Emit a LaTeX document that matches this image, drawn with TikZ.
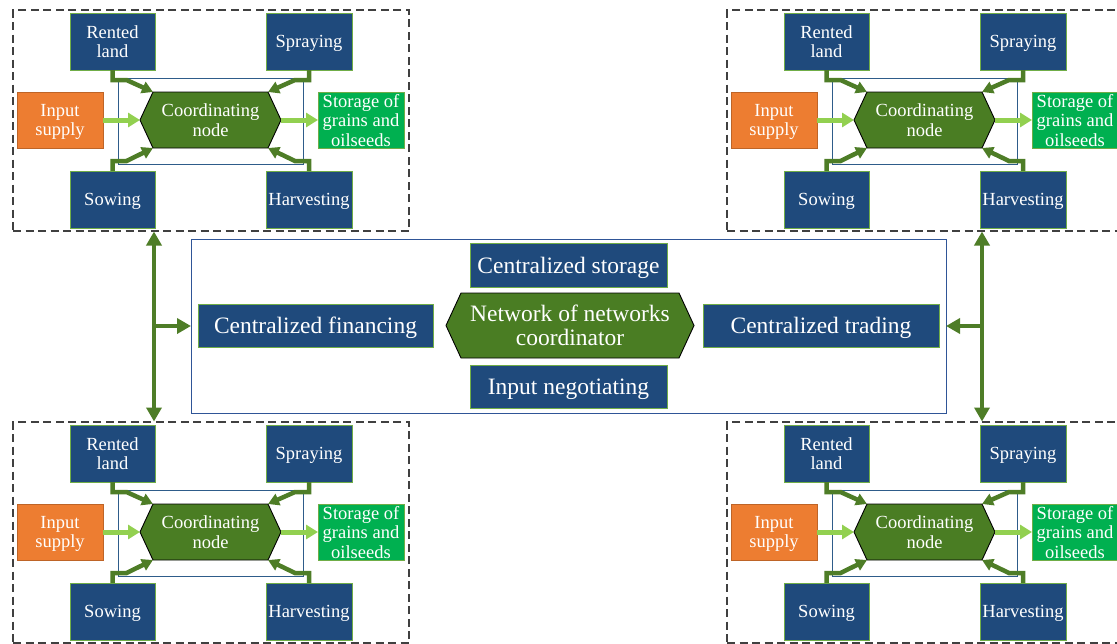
\documentclass[tikz,border=0pt]{standalone}
\usepackage{fontspec}
\setmainfont{Liberation Serif}
\usetikzlibrary{arrows.meta,backgrounds}
\definecolor{boxblue}{HTML}{1F4A7C}
\definecolor{boxedge}{HTML}{70AD47}
\definecolor{hexgreen}{HTML}{4A7D23}
\definecolor{darrc}{HTML}{4E7D27}
\definecolor{larrc}{HTML}{92D050}
\definecolor{inorange}{HTML}{ED7D31}
\definecolor{storgreen}{HTML}{00B050}
\definecolor{thinblue}{HTML}{2E5C8A}
\definecolor{cboxblue}{HTML}{2F5597}
\newcommand\hexpath[2]{%
  \begin{pgfonlayer}{background}
  \filldraw[fill=hexgreen, draw=black, line width=0.9pt, line join=miter]
    (#1.west) -- ([xshift=#2]#1.north west) -- ([xshift=-#2]#1.north east) --
    (#1.east) -- ([xshift=-#2]#1.south east) -- ([xshift=#2]#1.south west) -- cycle;
  \end{pgfonlayer}}
\tikzset{
  sbox/.style={draw=boxedge, line width=0.8pt, inner sep=0pt, outer sep=0pt, text depth=0pt,
    text=white, align=center, font=\fontsize{18.5}{19.5}\selectfont},
  bluebox/.style={sbox, fill=boxblue},
  orbox/.style={sbox, fill=inorange, draw=inorange!80!black},
  stbox/.style={sbox, fill=storgreen},
  hexnode/.style={inner sep=0pt, outer sep=0pt, text=white, align=center},
  bigbox/.style={draw=boxedge, fill=boxblue, line width=0.8pt, inner sep=0pt, outer sep=0pt, text depth=0pt,
    text=white, align=center, font=\fontsize{23.5}{24}\selectfont},
  frame/.style={draw=black!75, dash pattern=on 8pt off 4.5pt, line width=1.2pt, inner sep=0pt, outer sep=0pt},
  darr/.style={draw=darrc, line width=4.5pt, line join=miter,
    -{Triangle[length=11pt,width=12pt]}, fill=none},
  larr/.style={draw=larrc, line width=5pt, -{Triangle[length=12pt,width=14pt]}},
  varr/.style={draw=darrc, line width=4pt, {Triangle[length=14pt,width=15pt]}-{Triangle[length=14pt,width=15pt]}},
  harr/.style={draw=darrc, line width=4pt, -{Triangle[length=14pt,width=15pt]}},
}
\begin{document}
\begin{tikzpicture}[x=1pt,y=-1pt]
\useasboundingbox (0,0) rectangle (1117,643);
\foreach \dx/\dy/\p in {0/0/tl, 714/0/tr, 0/412/bl, 714/412/br}{
\begin{scope}[shift={(\dx,\dy)}, name prefix=\p-]
  \node[frame, minimum width=396pt, minimum height=221pt] (frame) at (211,120.5) {};
  \node[draw=thinblue, line width=0.9pt, inner sep=0pt, minimum width=185pt, minimum height=86pt] (inner) at (210.5,121) {};
  \node[bluebox, minimum width=85pt, minimum height=57pt] (rent) at (112.5,41.5) {Rented\\land};
  \node[bluebox, minimum width=86pt, minimum height=57pt] (spray) at (309,41.5) {Spraying};
  \node[orbox, minimum width=86pt, minimum height=56pt] (inp) at (60,120) {Input\\supply};
  \node[hexnode, minimum width=141pt, minimum height=56pt, font=\fontsize{18.5}{19.5}\selectfont] (h) at (210.5,120) {Coordinating\\node};
  \hexpath{h}{13pt}
  \node[stbox, minimum width=86pt, minimum height=56pt] (stor) at (361,120) {Storage of\\grains and\\oilseeds};
  \node[bluebox, minimum width=85pt, minimum height=57pt] (sow) at (112.5,199.5) {Sowing};
  \node[bluebox, minimum width=86pt, minimum height=57pt] (harv) at (309,199.5) {Harvesting};
  \draw[darr] (rent.south) -- ++(0,10) -- ++(14,0) -- ([xshift=13pt]h.north west);
  \draw[darr] (spray.south) -- ++(0,10) -- ++(-14,0) -- ([xshift=-13pt]h.north east);
  \draw[darr] (sow.north) -- ++(0,-10) -- ++(14,0) -- ([xshift=13pt]h.south west);
  \draw[darr] (harv.north) -- ++(0,-10) -- ++(-14,0) -- ([xshift=-13pt]h.south east);
  \draw[larr] (inp.east) -- (h.west);
  \draw[larr] (h.east) -- (stor.west);
\end{scope}
}
% centre
\node[draw=cboxblue, line width=1pt, inner sep=0pt, outer sep=0pt, minimum width=755pt, minimum height=174pt] (cbox) at (568.5,326) {};
\node[bigbox, minimum width=197pt, minimum height=44pt] (cstor) at (568.5,265) {Centralized storage};
\node[bigbox, minimum width=235pt, minimum height=43pt] (cfin) at (315.5,325.5) {Centralized financing};
\node[bigbox, minimum width=236pt, minimum height=43pt] (ctrade) at (821,325.5) {Centralized trading};
\node[bigbox, minimum width=197pt, minimum height=43pt] (cinp) at (568.5,386.5) {Input negotiating};
\node[hexnode, minimum width=248pt, minimum height=65pt, font=\fontsize{23.5}{24}\selectfont] (nhex) at (570,325.5) {Network of networks\\coordinator};
\hexpath{nhex}{15pt}
% connectors between clusters and centre
\coordinate (la) at (154,231.5);
\coordinate (lb) at (154,421.5);
\coordinate (lm) at (154,326);
\coordinate (ra) at (982,231.5);
\coordinate (rb) at (982,421.5);
\coordinate (rm) at (982,326);
\draw[varr] (la) -- (lb);
\draw[varr] (ra) -- (rb);
\draw[harr] (lm) -- (cbox.west);
\draw[harr] (rm) -- (cbox.east);
\end{tikzpicture}
\end{document}
